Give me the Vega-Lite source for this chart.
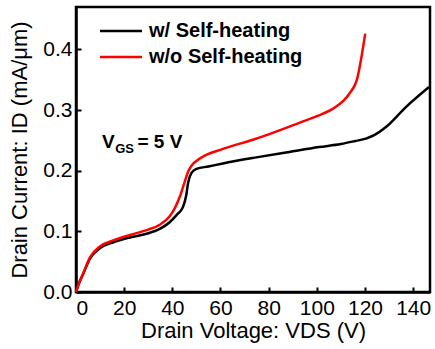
{
  "$schema": "https://vega.github.io/schema/vega-lite/v6.json",
  "width": 354,
  "height": 285,
  "autosize": {"type": "none"},
  "padding": {"left": 76, "top": 7, "right": 5, "bottom": 57},
  "config": {
    "font": "Liberation Sans",
    "view": {"stroke": "black", "strokeWidth": 2.5},
    "axis": {
      "domainColor": "black", "domainWidth": 2.5, "tickColor": "black", "tickWidth": 2,
      "tickSize": -5, "grid": false, "labelFontSize": 21, "labelColor": "black",
      "titleFontSize": 22, "titleFontWeight": "normal", "titleColor": "black"
    }
  },
  "data": {"values": [
    {"s":"w/ Self-heating","v":0,"i":0},
    {"s":"w/ Self-heating","v":1,"i":0.012},
    {"s":"w/ Self-heating","v":3,"i":0.030},
    {"s":"w/ Self-heating","v":5.8,"i":0.055},
    {"s":"w/ Self-heating","v":9.9,"i":0.072},
    {"s":"w/ Self-heating","v":15.5,"i":0.082},
    {"s":"w/ Self-heating","v":22.4,"i":0.090},
    {"s":"w/ Self-heating","v":29.3,"i":0.096},
    {"s":"w/ Self-heating","v":34.8,"i":0.104},
    {"s":"w/ Self-heating","v":38.9,"i":0.115},
    {"s":"w/ Self-heating","v":42,"i":0.128},
    {"s":"w/ Self-heating","v":44.4,"i":0.140},
    {"s":"w/ Self-heating","v":45.8,"i":0.160},
    {"s":"w/ Self-heating","v":46.5,"i":0.179},
    {"s":"w/ Self-heating","v":47.9,"i":0.196},
    {"s":"w/ Self-heating","v":50,"i":0.203},
    {"s":"w/ Self-heating","v":55,"i":0.207},
    {"s":"w/ Self-heating","v":61,"i":0.212},
    {"s":"w/ Self-heating","v":74.9,"i":0.222},
    {"s":"w/ Self-heating","v":88.6,"i":0.231},
    {"s":"w/ Self-heating","v":101,"i":0.239},
    {"s":"w/ Self-heating","v":110,"i":0.244},
    {"s":"w/ Self-heating","v":116,"i":0.249},
    {"s":"w/ Self-heating","v":120.4,"i":0.253},
    {"s":"w/ Self-heating","v":124,"i":0.259},
    {"s":"w/ Self-heating","v":128.7,"i":0.272},
    {"s":"w/ Self-heating","v":137,"i":0.305},
    {"s":"w/ Self-heating","v":146.6,"i":0.338},
    {"s":"w/o Self-heating","v":0,"i":0},
    {"s":"w/o Self-heating","v":1,"i":0.012},
    {"s":"w/o Self-heating","v":3,"i":0.031},
    {"s":"w/o Self-heating","v":5.8,"i":0.057},
    {"s":"w/o Self-heating","v":9.9,"i":0.075},
    {"s":"w/o Self-heating","v":15.5,"i":0.085},
    {"s":"w/o Self-heating","v":22.4,"i":0.094},
    {"s":"w/o Self-heating","v":29.3,"i":0.102},
    {"s":"w/o Self-heating","v":34.8,"i":0.111},
    {"s":"w/o Self-heating","v":38.9,"i":0.125},
    {"s":"w/o Self-heating","v":41,"i":0.138},
    {"s":"w/o Self-heating","v":43.1,"i":0.157},
    {"s":"w/o Self-heating","v":45,"i":0.180},
    {"s":"w/o Self-heating","v":46.5,"i":0.198},
    {"s":"w/o Self-heating","v":47.9,"i":0.208},
    {"s":"w/o Self-heating","v":51.4,"i":0.220},
    {"s":"w/o Self-heating","v":61,"i":0.236},
    {"s":"w/o Self-heating","v":73.4,"i":0.251},
    {"s":"w/o Self-heating","v":80,"i":0.260},
    {"s":"w/o Self-heating","v":92.8,"i":0.279},
    {"s":"w/o Self-heating","v":100,"i":0.290},
    {"s":"w/o Self-heating","v":106.6,"i":0.302},
    {"s":"w/o Self-heating","v":111,"i":0.315},
    {"s":"w/o Self-heating","v":113.5,"i":0.327},
    {"s":"w/o Self-heating","v":116.9,"i":0.354},
    {"s":"w/o Self-heating","v":118.3,"i":0.382},
    {"s":"w/o Self-heating","v":120.1,"i":0.426}
  ]},
  "layer": [
    {
      "mark": {"type": "line", "strokeWidth": 2.5, "interpolate": "monotone"},
      "encoding": {
        "x": {"field": "v", "type": "quantitative",
              "scale": {"domain": [0, 147], "nice": false, "zero": false},
              "axis": {"values": [0,20,40,60,80,100,120,140], "labelPadding": 10, "titlePadding": 2,
                       "title": "Drain Voltage: VDS (V)"}},
        "y": {"field": "i", "type": "quantitative",
              "scale": {"domain": [0, 0.47], "nice": false},
              "axis": {"values": [0,0.1,0.2,0.3,0.4], "format": ".1f", "labelPadding": 9, "titlePadding": 11,
                       "title": "Drain Current: ID (mA/μm)"}},
        "color": {"field": "s", "type": "nominal",
                  "scale": {"domain": ["w/ Self-heating","w/o Self-heating"], "range": ["black","#ff0000"]},
                  "legend": {"title": null, "orient": "none", "legendX": 35, "legendY": 14, "padding": 0,
                             "symbolType": "M-3,0H3", "symbolSize": 196, "symbolStrokeWidth": 2.5,
                             "labelFontSize": 20, "labelFontWeight": "bold", "labelColor": "black",
                             "labelOffset": 18, "rowPadding": 6, "labelLimit": 300}}
      }
    },
    {
      "data": {"values": [{}]},
      "mark": {"type": "text", "align": "left", "baseline": "alphabetic", "fontSize": 19, "fontWeight": "bold", "color": "black"},
      "encoding": {"x": {"datum": 10.8}, "y": {"datum": 0.237}, "text": {"value": "V"}}
    },
    {
      "data": {"values": [{}]},
      "mark": {"type": "text", "align": "left", "baseline": "alphabetic", "fontSize": 13, "fontWeight": "bold", "color": "black"},
      "encoding": {"x": {"datum": 16.3}, "y": {"datum": 0.2285}, "text": {"value": "GS"}}
    },
    {
      "data": {"values": [{}]},
      "mark": {"type": "text", "align": "left", "baseline": "alphabetic", "fontSize": 19, "fontWeight": "bold", "color": "black"},
      "encoding": {"x": {"datum": 25.5}, "y": {"datum": 0.237}, "text": {"value": "= 5 V"}}
    }
  ]
}
